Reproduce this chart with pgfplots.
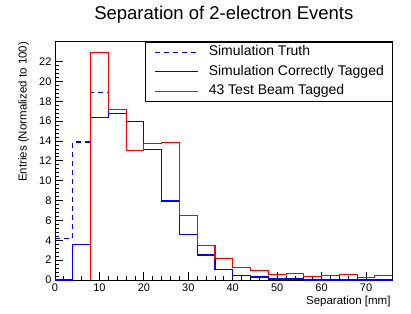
\documentclass[border=0pt]{standalone}
\usepackage{fontspec}
\setmainfont{Liberation Sans}
\usepackage{pgfplots}
\pgfplotsset{compat=1.18}
\definecolor{rblue}{RGB}{0,0,255}
\definecolor{rred}{RGB}{255,0,0}
\begin{document}
\begin{tikzpicture}[x=1pt,y=1pt]
\useasboundingbox (0,0) rectangle (411,313);
\begin{axis}[
  at={(55pt,33pt)}, anchor=south west,
  scale only axis, width=337.7pt, height=238.3pt,
  xmin=0, xmax=76, ymin=0, ymax=24,
  xtick={0,10,...,70}, minor x tick num=4,
  ytick={0,2,...,22}, minor y tick num=4,
  tick align=inside, tick pos=left,
  major tick length=8pt, minor tick length=4pt,
  axis line style={line width=0.9pt},
  every tick/.style={black, line width=0.8pt},
  ticklabel style={font=\fontsize{11}{13}\selectfont},
  /pgf/number format/assume math mode=true,
  xlabel={Separation [mm]},
  ylabel={Entries (Normalized to 100)},
  xlabel style={at={(rel axis cs:1,0)}, anchor=base east, inner sep=0pt, xshift=-2pt, yshift=-24pt, font=\fontsize{11.5}{13}\selectfont},
  ylabel style={at={(rel axis cs:0,1)}, anchor=base east, inner sep=0pt, yshift=28.3pt, font=\fontsize{11.5}{13}\selectfont},
  title={Separation of 2-electron Events},
  title style={at={(rel axis cs:0.5,1)}, anchor=base, inner sep=0pt, yshift=16pt, font=\fontsize{18.5}{22}\selectfont},
  legend style={at={(rel axis cs:1,1)}, anchor=north east, xshift=0.6pt,
    draw=black, line width=0.9pt, fill=white,
    inner xsep=9pt, inner ysep=3.5pt,
    font=\fontsize{14}{16}\selectfont,
    row sep=6.6pt, column sep=10.6pt,
    nodes={inner sep=0pt, text height=10pt, text depth=2.9pt},
    cells={anchor=west}},
  legend image code/.code={\draw[#1] (0pt,0pt) -- (42.7pt,0pt);},
  legend cell align=left,
]
\addplot[const plot, rblue, line width=1.1pt, dash pattern=on 5pt off 4pt] coordinates {
(0,4.2) (4,13.9) (8,18.9) (12,16.8) (16,16.0) (20,13.17) (24,8.03) (28,4.6) (32,2.59)
(36,1.07) (40,0.47) (44,0.3) (48,0.1) (52,0.1) (56,0) (60,0) (64,0) (68,0) (72,0) (76,0)};
\addlegendentry{Simulation Truth}
\addplot[const plot, rblue, line width=1.1pt] coordinates {
(0,0) (4,3.6) (8,16.39) (12,16.8) (16,16.0) (20,13.17) (24,7.96) (28,4.6) (32,2.52)
(36,1.07) (40,0.47) (44,0.3) (48,0.1) (52,0.1) (56,0) (60,0) (64,0) (68,0) (72,0) (76,0)};
\addlegendentry{Simulation Correctly Tagged}
\addplot[const plot, rred, line width=1.1pt] coordinates {
(8,0) (8,22.94) (12,17.2) (16,13.0) (20,13.78) (24,13.88) (28,6.52) (32,3.49) (36,2.18)
(40,1.28) (44,0.97) (48,0.57) (52,0.67) (56,0.37) (60,0.47) (64,0.57) (68,0.27) (72,0.47) (76,0.47)};
\addlegendentry{43 Test Beam Tagged}
\end{axis}
\end{tikzpicture}
\end{document}
